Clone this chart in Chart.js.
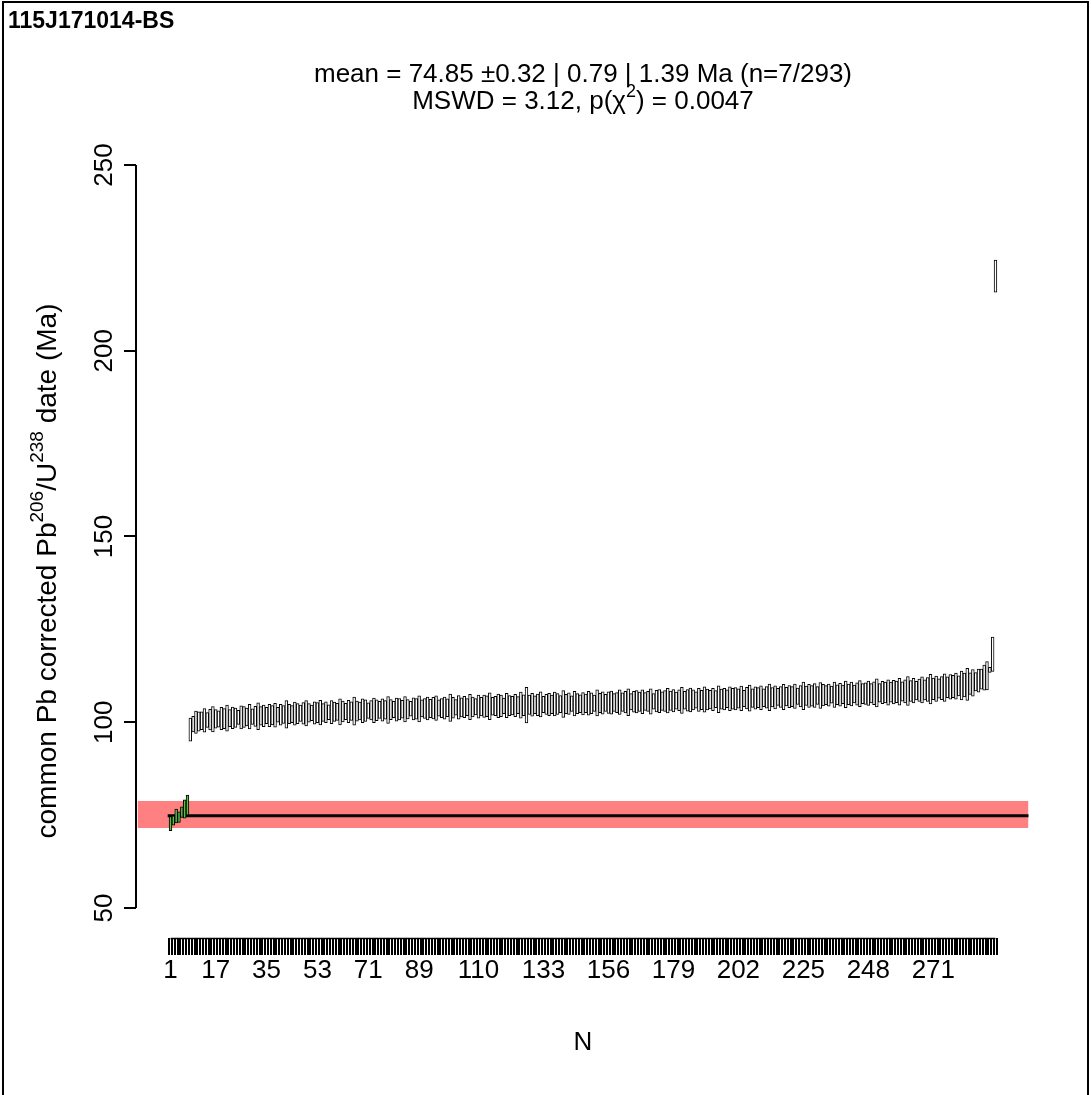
<!DOCTYPE html>
<html><head><meta charset="utf-8">
<script src="https://cdn.jsdelivr.net/npm/chart.js@4/dist/chart.umd.min.js"></script>
<style>
html,body{margin:0;padding:0;background:#fff;}
canvas{display:block;}
</style></head><body>
<canvas id="c" width="1091" height="1095"></canvas>
<script>
const sampleName = "115J171014-BS";
const nAccepted = 7;
const meanAge = 74.85;
const bandLower = 71.5;
const bandUpper = 78.8;
const xTickLabels = [1,17,35,53,71,89,110,133,156,179,202,225,248,271];
const yTickValues = [50,100,150,200,250];

// dates (Ma), ranked; first 7 are the accepted (green) ones
const ages = [
72.7,73.55,74.75,74.45,75.8,76.65,77.7,
98.0,99.5,100.0,100.2,100.4,100.5,100.6,100.7,100.8,100.9,
100.9,101.0,101.0,101.1,101.1,101.2,101.2,101.3,101.3,101.4,
101.4,101.5,101.5,101.6,101.6,101.7,101.7,101.8,101.8,101.9,
101.9,102.0,102.0,102.1,102.1,102.2,102.2,102.3,102.3,102.4,
102.4,102.4,102.5,102.5,102.5,102.6,102.6,102.6,102.7,102.7,
102.7,102.8,102.8,102.8,102.9,102.9,102.9,103.0,103.0,103.0,
103.0,103.1,103.1,103.1,103.2,103.2,103.2,103.3,103.3,103.3,
103.3,103.4,103.4,103.4,103.5,103.5,103.5,103.5,103.6,103.6,
103.6,103.6,103.7,103.7,103.7,103.7,103.8,103.8,103.8,103.8,
103.8,103.9,103.9,103.9,104.0,104.0,104.0,104.1,104.1,104.1,
104.1,104.2,104.2,104.2,104.3,104.3,104.3,104.3,104.4,104.4,
104.4,104.4,104.5,104.5,104.5,104.5,104.6,104.6,104.6,104.6,
104.7,104.7,104.7,104.7,104.8,104.8,104.8,104.8,104.8,104.9,
104.9,104.9,104.9,104.9,105.0,105.0,105.0,105.0,105.0,105.0,
105.1,105.1,105.1,105.1,105.2,105.2,105.2,105.2,105.3,105.3,
105.3,105.3,105.4,105.4,105.4,105.4,105.5,105.5,105.5,105.5,
105.5,105.6,105.6,105.6,105.6,105.7,105.7,105.7,105.7,105.8,
105.8,105.8,105.8,105.9,105.9,105.9,105.9,106.0,106.0,106.0,
106.0,106.0,106.1,106.1,106.1,106.1,106.2,106.2,106.2,106.2,
106.3,106.3,106.3,106.3,106.4,106.4,106.4,106.5,106.5,106.5,
106.5,106.6,106.6,106.6,106.7,106.7,106.7,106.7,106.8,106.8,
106.8,106.9,106.9,106.9,107.0,107.0,107.0,107.1,107.1,107.1,
107.1,107.2,107.2,107.2,107.3,107.3,107.3,107.4,107.4,107.4,
107.4,107.5,107.5,107.5,107.6,107.6,107.6,107.7,107.7,107.7,
107.8,107.8,107.8,107.9,107.9,108.0,108.0,108.0,108.1,108.1,
108.2,108.2,108.3,108.3,108.4,108.4,108.5,108.5,108.6,108.7,
108.7,108.8,108.9,109.0,109.0,109.1,109.2,109.3,109.4,109.5,
109.6,109.7,109.8,109.9,110.0,110.2,110.4,110.6,110.9,111.2,
111.6,112.0,112.5,114.1,118.3,220.1
];
// half-widths of the error bars (Ma)
const errs = [
1.9,1.25,1.85,1.45,1.4,2.45,2.7,
3.1,2.1,3.0,2.6,2.4,3.2,2.0,2.8,3.4,2.5,
2.2,3.0,2.7,3.5,2.3,2.9,2.6,1.9,3.1,2.8,
2.4,3.3,2.1,2.7,3.6,2.5,2.9,2.2,3.0,2.6,
3.2,2.0,2.8,2.4,3.7,2.6,2.3,3.1,2.7,2.2,
2.9,3.4,2.5,2.1,3.0,2.7,3.3,2.4,2.8,2.0,
3.1,2.6,2.3,3.5,2.8,2.2,3.0,2.5,3.8,2.7,
2.4,3.2,2.9,2.1,2.6,3.3,2.8,2.3,3.0,2.5,
3.6,2.7,2.2,3.1,2.9,2.4,3.4,2.6,2.0,3.0,
2.8,3.5,2.3,2.7,3.1,2.5,2.9,3.3,2.2,2.6,
3.0,2.4,3.7,2.8,2.1,3.2,2.6,2.9,2.3,3.4,
2.7,2.2,3.1,2.5,3.0,2.8,3.6,2.4,2.6,3.2,
2.9,2.1,3.3,2.7,2.5,3.0,2.3,3.5,2.8,4.8,
2.6,3.1,2.4,2.9,3.4,2.2,2.7,3.0,2.5,3.2,
2.8,2.3,3.6,2.6,2.9,2.1,3.3,2.7,2.4,3.0,
2.5,3.2,2.8,2.2,3.5,2.6,3.0,2.3,2.9,3.1,
2.4,2.7,3.3,2.5,2.9,3.6,2.2,2.8,3.0,2.6,
3.2,2.4,2.7,3.4,2.1,2.9,3.1,2.5,2.8,3.3,
2.6,3.0,2.3,2.8,3.5,2.4,2.9,3.2,2.7,2.2,
3.1,2.6,3.4,2.8,2.5,3.0,2.3,3.6,2.7,2.9,
2.4,3.2,2.8,3.0,2.6,3.3,2.2,2.9,3.5,2.5,
3.0,2.7,3.2,2.4,2.9,3.6,2.6,3.1,2.3,2.8,
3.4,2.5,3.0,2.7,3.3,2.2,2.9,3.7,2.6,3.1,
2.8,3.2,2.4,3.5,2.9,2.6,3.0,2.3,3.4,2.7,
3.1,2.5,3.6,2.8,3.2,2.4,3.0,3.5,2.7,2.9,
3.3,2.6,3.1,3.8,2.5,3.0,2.8,3.4,2.7,3.2,
2.9,3.6,2.6,3.1,3.9,2.8,3.3,2.5,3.0,3.5,
2.7,3.2,4.0,2.9,3.4,2.6,3.1,3.7,2.8,3.3,
3.0,3.5,2.7,3.9,3.2,4.3,2.9,3.6,2.5,3.1,
2.7,3.4,3.8,0.7,4.6,4.3
];

const N = ages.length;
const xMin = 1 - 0.04 * (N - 1);
const xMax = N + 0.04 * (N - 1);
const FONT = '"Liberation Sans", Arial, Helvetica, sans-serif';
const FS = 26;
const FS_YTITLE = 28;

const barData = ages.map((a, i) => ({ x: i + 1, y: [a - errs[i], a + errs[i]] }));
const barFill = ages.map((a, i) => i < nAccepted ? '#5cbf45' : '#ffffff');

function drawRich(ctx, parts, x, y, size, align) {
  const supSize = Math.round(size * 0.68);
  let total = 0;
  const widths = parts.map(p => {
    ctx.font = (p.sup ? supSize : size) + 'px ' + FONT;
    const w = ctx.measureText(p.t).width;
    total += w; return w;
  });
  let cx = align === 'center' ? x - total / 2 : x;
  parts.forEach((p, i) => {
    ctx.font = (p.sup ? supSize : size) + 'px ' + FONT;
    ctx.fillText(p.t, cx, p.sup ? y - size * 0.38 : y);
    cx += widths[i];
  });
}

const decor = {
  id: 'decor',
  afterDraw(chart) {
    const ctx = chart.ctx;
    const ys = chart.scales.y, xs = chart.scales.x;
    const ca = chart.chartArea;
    ctx.save();
    ctx.fillStyle = '#000';
    ctx.strokeStyle = '#000';
    // y axis line (50..250)
    ctx.lineWidth = 2;
    ctx.beginPath();
    ctx.moveTo(ca.left, ys.getPixelForValue(yTickValues[0]));
    ctx.lineTo(ca.left, ys.getPixelForValue(yTickValues[yTickValues.length - 1]));
    ctx.stroke();
    // x axis line (1..N)
    ctx.lineWidth = 1.5;
    ctx.beginPath();
    ctx.moveTo(xs.getPixelForValue(1), ca.bottom + 0.5);
    ctx.lineTo(xs.getPixelForValue(N), ca.bottom + 0.5);
    ctx.stroke();
    // y tick labels, rotated
    ctx.font = FS + 'px ' + FONT;
    ctx.textAlign = 'center';
    ctx.textBaseline = 'middle';
    yTickValues.forEach(v => {
      const py = ys.getPixelForValue(v);
      ctx.save();
      ctx.translate(105, py);
      ctx.rotate(-Math.PI / 2);
      ctx.fillText(String(v), 0, 0);
      ctx.restore();
    });
    // y title
    ctx.save();
    ctx.translate(48, 571);
    ctx.rotate(-Math.PI / 2);
    ctx.textAlign = 'left';
    ctx.textBaseline = 'middle';
    drawRich(ctx, [
      { t: 'common Pb corrected Pb' }, { t: '206', sup: true },
      { t: '/U' }, { t: '238', sup: true }, { t: ' date (Ma)' }
    ], 0, 0, FS_YTITLE, 'center');
    ctx.restore();
    // x title
    ctx.textAlign = 'center';
    ctx.textBaseline = 'middle';
    ctx.font = FS + 'px ' + FONT;
    ctx.fillText('N', (ca.left + ca.right) / 2, 1043);
    // main titles
    ctx.textAlign = 'left';
    drawRich(ctx, [{ t: 'mean = 74.85 \u00b10.32 | 0.79 | 1.39 Ma (n=7/293)' }], (ca.left + ca.right) / 2, 75, FS, 'center');
    drawRich(ctx, [{ t: 'MSWD = 3.12, p(\u03c7' }, { t: '2', sup: true }, { t: ') = 0.0047' }], (ca.left + ca.right) / 2, 102, FS, 'center');
    // sample name
    ctx.font = 'bold 23px ' + FONT;
    ctx.textAlign = 'left';
    ctx.fillText(sampleName, 8, 22);
    // frame
    ctx.lineWidth = 2;
    ctx.strokeRect(3, 2, 1085, 1110);
    ctx.restore();
  }
};

new Chart(document.getElementById('c'), {
  type: 'bar',
  data: {
    datasets: [
      { type: 'line', data: [{ x: xMin, y: bandLower }, { x: xMax, y: bandLower }],
        borderWidth: 0, pointRadius: 0, fill: false, order: 5 },
      { type: 'line', data: [{ x: xMin, y: bandUpper }, { x: xMax, y: bandUpper }],
        borderWidth: 0, pointRadius: 0, fill: '-1', backgroundColor: 'rgb(255,128,128)', order: 4 },
      { type: 'line', data: [{ x: 0, y: meanAge }, { x: xMax, y: meanAge }],
        borderColor: '#000', borderWidth: 3, pointRadius: 0, fill: false, order: 3 },
      { type: 'bar', data: barData, backgroundColor: barFill, borderColor: '#000',
        borderWidth: 1, borderSkipped: false, barThickness: 2.8, order: 1 }
    ]
  },
  options: {
    responsive: false,
    animation: false,
    devicePixelRatio: 1,
    layout: { padding: { left: 0, top: 165, right: 61, bottom: 0 } },
    plugins: { legend: { display: false }, tooltip: { enabled: false }, title: { display: false } },
    scales: {
      x: {
        type: 'linear', min: xMin, max: xMax,
        afterBuildTicks: s => { const t = []; for (let i = 1; i <= N; i++) t.push({ value: i }); s.ticks = t; },
        afterFit: s => { s.height = 157; },
        ticks: {
          autoSkip: false, maxRotation: 0, minRotation: 0, padding: 0, color: '#000',
          font: { size: FS, family: FONT },
          callback: v => xTickLabels.includes(v) ? String(v) : ''
        },
        grid: { drawOnChartArea: false, drawTicks: true, tickLength: 17, color: '#000', lineWidth: 2 },
        border: { display: false }
      },
      y: {
        type: 'linear', min: 41.92, max: 250,
        afterBuildTicks: s => { s.ticks = yTickValues.map(v => ({ value: v })); },
        afterFit: s => { s.width = 136; },
        ticks: { display: false },
        grid: { drawOnChartArea: false, drawTicks: true, tickLength: 12, color: '#000', lineWidth: 2 },
        border: { display: false }
      }
    }
  },
  plugins: [decor]
});
</script>
</body></html>
